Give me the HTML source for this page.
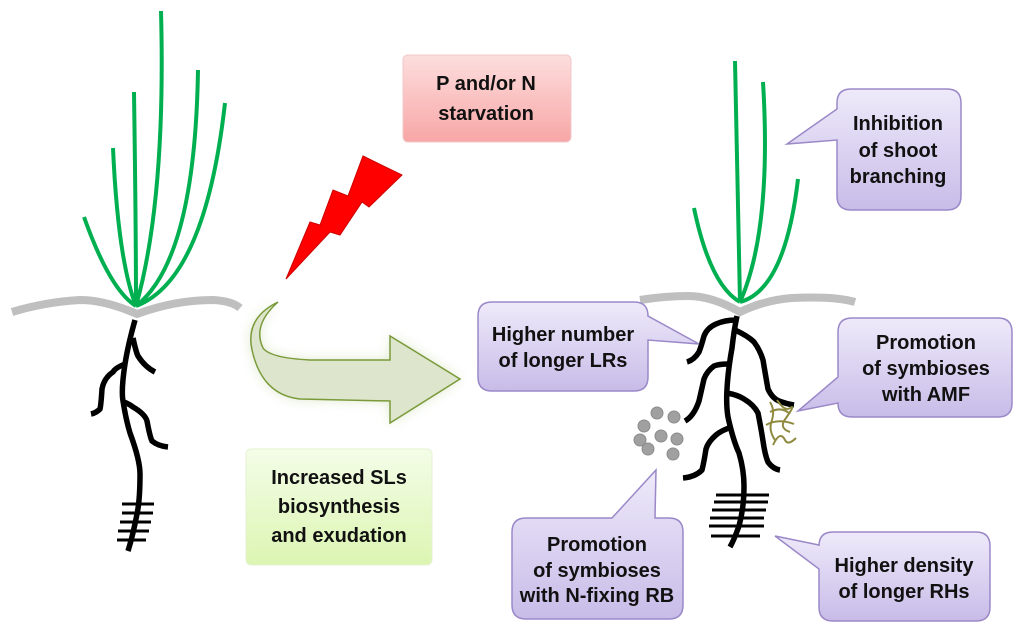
<!DOCTYPE html>
<html><head><meta charset="utf-8"><style>
html,body{margin:0;padding:0;background:#fff;}
svg{display:block}
text{font-family:"Liberation Sans",sans-serif;font-weight:bold;font-size:20px;fill:#111;text-anchor:middle}
</style></head><body>
<svg width="1024" height="638" viewBox="0 0 1024 638" xmlns="http://www.w3.org/2000/svg">
<defs>
<linearGradient id="lav" x1="0" y1="0" x2="0" y2="1"><stop offset="0" stop-color="#eeeafa"/><stop offset="1" stop-color="#c8bce8"/></linearGradient>
<linearGradient id="pink" x1="0" y1="0" x2="0" y2="1"><stop offset="0" stop-color="#fddede"/><stop offset="1" stop-color="#f8a6a6"/></linearGradient>
<linearGradient id="grn" x1="0" y1="0" x2="0" y2="1"><stop offset="0" stop-color="#f4fde8"/><stop offset="1" stop-color="#dcf5b2"/></linearGradient>
<filter id="blur"><feGaussianBlur stdDeviation="6"/></filter>
</defs>

<g fill="none" stroke="#00b050" stroke-width="4" stroke-linecap="butt">
<path d="M161,11 Q166,200 136,306"/>
<path d="M134,92 Q136,230 136,306"/>
<path d="M113,148 Q118,260 136,306"/>
<path d="M84,217 Q110,290 136,306"/>
<path d="M198,70 Q195,260 136,306"/>
<path d="M225,103 Q205,280 136,306"/>
</g>
<path d="M12,312 Q45,302 80,300 Q105,300 137,314 Q175,300 213,300 Q232,301 240,308" fill="none" stroke="#bfbfbf" stroke-width="8"/>
<g fill="none" stroke="#000" stroke-width="5.5" stroke-linecap="butt" stroke-linejoin="round">
<path d="M135,320 Q128,345 125,364 Q121,390 123,401 Q126,420 130,433 Q140,460 140,474 Q140,500 137,514 Q133,535 128,551"/>
<path d="M133,338 Q136,352 138,356 Q145,367 155,372"/>
<path d="M125,364 Q115,368 113,372 Q104,378 102,389 Q101,405 100,409 Q96,413 91,414"/>
<path d="M124,402 Q129,404 133,407 Q145,414 147,421 Q150,437 152,441 Q158,446 168,447"/>
</g>
<g stroke="#000" stroke-width="3">
<line x1="122" y1="504" x2="154" y2="504"/><line x1="122" y1="513" x2="153" y2="513"/>
<line x1="120" y1="522" x2="151" y2="522"/><line x1="118" y1="531" x2="149" y2="531"/>
<line x1="117" y1="540" x2="146" y2="540"/>
</g>

<rect x="403" y="55" width="168" height="87" rx="5" fill="url(#pink)" stroke="#f0c8c8" stroke-width="1"/>
<text x="486" y="90">P and/or N</text>
<text x="486" y="120">starvation</text>

<polygon points="286,279 310,222 320,225 333,190 348,196 363,156 402,175 369,207 362,202 340,235 330,232" fill="#ff0000" stroke="#c00" stroke-width="1"/>

<path d="M278,302 Q245,318 252,350 Q262,395 300,399 L390,401 L390,423 L460,379 L390,336 L390,360 L310,360 Q270,358 263,348 Q252,325 278,302 Z" fill="#c8d8a8" filter="url(#blur)" opacity="0.6"/>
<path d="M278,302 Q245,318 252,350 Q262,395 300,399 L390,401 L390,423 L460,379 L390,336 L390,360 L310,360 Q270,358 263,348 Q252,325 278,302 Z" fill="#dde6cc" stroke="#7a9a3a" stroke-width="1.5"/>

<rect x="246" y="449" width="186" height="116" rx="5" fill="url(#grn)" stroke="#e6f2d2" stroke-width="1"/>
<text x="339" y="484">Increased SLs</text>
<text x="339" y="513">biosynthesis</text>
<text x="339" y="542">and exudation</text>

<g fill="none" stroke="#00b050" stroke-width="4">
<path d="M735,61 Q738,200 740,302"/>
<path d="M763,82 Q772,230 740,302"/>
<path d="M694,208 Q710,285 740,302"/>
<path d="M798,179 Q785,290 740,302"/>
</g>
<path d="M640,300 Q665,296 688,296 Q712,296 740,312 Q765,300 792,298 Q835,296 855,302" fill="none" stroke="#bfbfbf" stroke-width="8"/>
<g fill="none" stroke="#000" stroke-width="5.5" stroke-linejoin="round">
<path d="M737,316 Q734,330 732,348 Q728,370 727,389 Q726,405 728,417 Q733,440 739,453 Q744,470 744,486 Q744,508 739,526 Q734,540 730,547"/>
<path d="M736,320 Q725,320 716,324 Q707,328 704,336 Q701,347 699,352 Q694,360 687,362"/>
<path d="M735,330 Q748,336 754,342 Q760,350 763,360 Q766,378 768,389 Q772,398 779,401 Q787,404 794,405"/>
<path d="M728,364 Q719,364 714,366 Q707,371 704,379 Q701,392 699,401 Q694,416 685,421"/>
<path d="M727,393 Q738,395 744,399 Q754,405 758,413 Q761,428 763,441 Q765,455 768,462 Q773,469 780,470"/>
<path d="M732,427 Q722,430 716,435 Q708,442 706,449 Q704,462 702,470 Q695,477 683,478"/>
</g>
<g stroke="#000" stroke-width="3">
<line x1="716" y1="495" x2="769" y2="495"/><line x1="714" y1="502" x2="768" y2="502"/>
<line x1="712" y1="510" x2="766" y2="510"/><line x1="710" y1="518" x2="764" y2="518"/>
<line x1="709" y1="526" x2="764" y2="526"/><line x1="711" y1="536" x2="760" y2="536"/>
</g>
<g fill="none" stroke="#8f8a40" stroke-width="2">
<path d="M770,402 Q775,410 772,420 Q768,430 775,440 M777,400 Q785,412 790,408 Q796,404 786,418 Q778,428 790,432 M766,425 Q778,418 794,424 M773,445 Q780,430 785,440 Q788,446 796,438 M770,412 Q782,406 790,414"/>
</g>
<g fill="#a0a0a0" stroke="#8c8c8c" stroke-width="1">
<circle cx="657" cy="413" r="6"/><circle cx="674" cy="417" r="6"/><circle cx="644" cy="426" r="6"/>
<circle cx="661" cy="436" r="6"/><circle cx="677" cy="439" r="6"/><circle cx="640" cy="440" r="6"/>
<circle cx="648" cy="449" r="6"/><circle cx="673" cy="454" r="6"/>
</g>

<g fill="url(#lav)" stroke="#9b88c8" stroke-width="1.5">
<path d="M851,89 H947 Q961,89 961,103 V196 Q961,210 947,210 H851 Q837,210 837,196 V140 L787,144 L837,109 V103 Q837,89 851,89 Z"/>
<path d="M492,302 H634 Q648,302 648,316 L699,344 L648,340 V377 Q648,391 634,391 H492 Q478,391 478,377 V316 Q478,302 492,302 Z"/>
<path d="M852,318 H998 Q1012,318 1012,332 V403 Q1012,417 998,417 H852 Q838,417 838,403 L798,411 L838,377 V332 Q838,318 852,318 Z"/>
<path d="M526,518 H612 L656,470 L655,518 H669 Q683,518 683,532 V605 Q683,619 669,619 H526 Q512,619 512,605 V532 Q512,518 526,518 Z"/>
<path d="M833,532 H976 Q990,532 990,546 V607 Q990,621 976,621 H833 Q819,621 819,607 V569 L775,536 L819,545 V546 Q819,532 833,532 Z"/>
</g>
<text x="898" y="130">Inhibition</text>
<text x="898" y="157">of shoot</text>
<text x="898" y="183">branching</text>
<text x="563" y="341">Higher number</text>
<text x="563" y="367">of longer LRs</text>
<text x="926" y="349">Promotion</text>
<text x="926" y="375">of symbioses</text>
<text x="926" y="401">with AMF</text>
<text x="597" y="551">Promotion</text>
<text x="597" y="577">of symbioses</text>
<text x="597" y="602">with N-fixing RB</text>
<text x="904" y="572">Higher density</text>
<text x="904" y="598">of longer RHs</text>
</svg>
</body></html>
